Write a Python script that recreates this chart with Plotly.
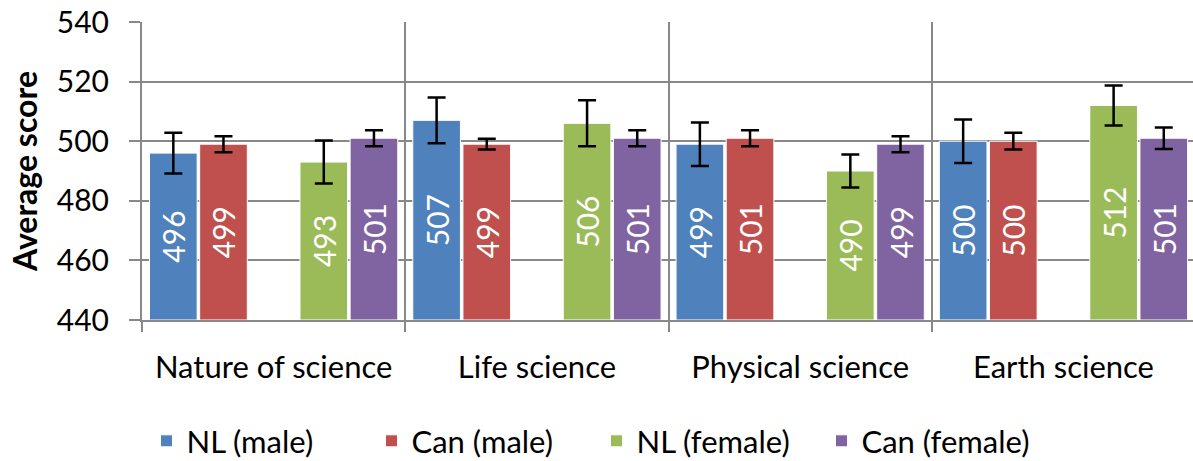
import plotly.graph_objects as go

# Average scores by content domain, split by country and gender
categories = ["Nature of science", "Life science", "Physical science", "Earth science"]

nl_male = [496, 507, 499, 500]
can_male = [499, 499, 501, 500]
nl_female = [493, 506, 490, 512]
can_female = [501, 501, 499, 501]

# Half-length of each error bar (score points)
nl_male_err = [6.8, 7.7, 7.3, 7.3]
can_male_err = [2.7, 1.8, 2.7, 2.8]
nl_female_err = [7.2, 7.7, 5.5, 6.7]
can_female_err = [2.7, 2.7, 2.7, 3.6]

series_names = ["NL (male)", "Can (male)", "NL (female)", "Can (female)"]
colors = ["#4F81BD", "#C0504D", "#9BBB59", "#8064A2"]

Y_MIN, Y_MAX = 440, 540

FONT = "Lato"
GRID = "#888888"

fig = go.Figure()


def add_series(name, values, errors, color):
    # bars start at the bottom of the value axis so that the value
    # labels sit in the middle of the visible part of each bar
    fig.add_trace(go.Bar(
        name=name,
        x=categories,
        y=[v - Y_MIN for v in values],
        base=Y_MIN,
        customdata=values,
        marker=dict(color=color, line=dict(color="white", width=1)),
        error_y=dict(type="data", array=errors, visible=True,
                     color="black", thickness=2.5, width=9),
        text=[str(v) for v in values],
        textposition="inside",
        insidetextanchor="middle",
        textangle=-90,
        constraintext="none",
        textfont=dict(family=FONT, size=30, color="white"),
        hovertemplate="%{x}<br>%{customdata}<extra>" + name + "</extra>",
    ))


add_series(series_names[0], nl_male, nl_male_err, colors[0])
add_series(series_names[1], can_male, can_male_err, colors[1])
# empty slot separating the male and female pairs
fig.add_trace(go.Bar(name="", x=categories, y=[None] * len(categories),
                     showlegend=False, hoverinfo="skip"))
add_series(series_names[2], nl_female, nl_female_err, colors[2])
add_series(series_names[3], can_female, can_female_err, colors[3])

fig.update_layout(
    width=1193,
    height=461,
    margin=dict(l=142, r=0, t=22, b=141),
    paper_bgcolor="white",
    plot_bgcolor="white",
    barmode="group",
    bargap=0.0475,
    bargroupgap=0.05,
    font=dict(family=FONT, color="black"),
    showlegend=True,
    legend=dict(
        orientation="h",
        xref="container", yref="container",
        x=0.5, xanchor="center",
        y=0.043, yanchor="middle",
        font=dict(family=FONT, size=31, color="black"),
        traceorder="normal",
        entrywidth=180,
    ),
    xaxis=dict(
        type="category",
        tickson="boundaries",
        range=[-0.5, 3.492],
        showgrid=True, gridcolor=GRID, gridwidth=2,
        ticks="outside", ticklen=10, tickwidth=2, tickcolor=GRID,
        showline=True, linecolor=GRID, linewidth=2,
        tickfont=dict(family=FONT, size=31, color="black"),
        ticklabelstandoff=19,
    ),
    yaxis=dict(
        range=[Y_MIN, Y_MAX],
        tick0=Y_MIN, dtick=20,
        showgrid=True, gridcolor=GRID, gridwidth=2,
        ticks="outside", ticklen=11, tickwidth=2, tickcolor=GRID,
        showline=True, linecolor=GRID, linewidth=2,
        tickfont=dict(family=FONT, size=30, color="black"),
        ticklabelstandoff=14,
        title=dict(text="<b>Average score</b>",
                   font=dict(family=FONT, size=32, color="black"),
                   standoff=10),
    ),
)

fig.write_html("out.html")
